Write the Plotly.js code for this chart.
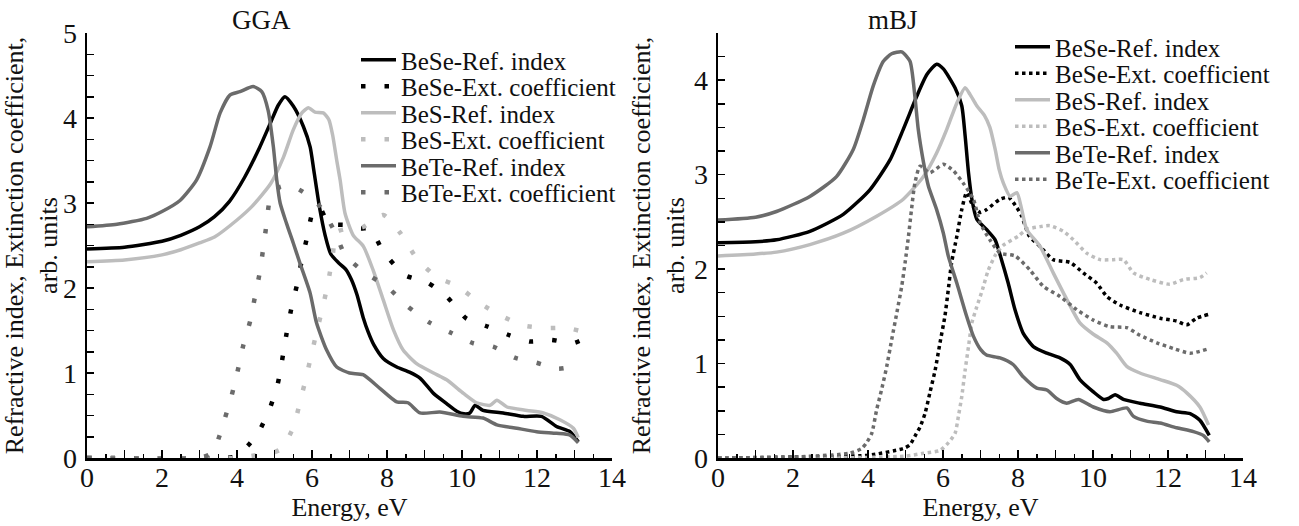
<!DOCTYPE html>
<html><head><meta charset="utf-8">
<script src="https://cdn.plot.ly/plotly-3.0.1.min.js"></script>
<style>html,body{margin:0;padding:0;background:#fff}#chart{width:1299px;height:526px}</style>
</head><body><div id="chart"></div>
<script>
// ---------- GGA panel ----------
const ggaBeSeN_E = [0,1,2,2.5,3,3.4,3.8,4.2,4.6,4.9,5.1,5.28,5.5,5.77,5.95,6.05,6.2,6.35,6.5,6.7,6.9,7.05,7.2,7.36,7.5,7.65,7.9,8.26,8.6,8.88,9.24,9.59,9.86,10.05,10.21,10.35,10.56,11.1,11.63,12.12,12.52,12.88,13.1];
const ggaBeSeN   = [2.46,2.48,2.55,2.62,2.72,2.84,3.02,3.3,3.65,3.95,4.15,4.25,4.14,3.9,3.66,3.38,2.95,2.62,2.4,2.3,2.22,2.1,1.92,1.66,1.48,1.33,1.17,1.07,1.01,0.94,0.76,0.64,0.55,0.52,0.53,0.62,0.56,0.53,0.49,0.49,0.37,0.31,0.19];
const ggaBeSN_E = [0,1,2,2.5,3,3.4,4,4.4,4.9,5.24,5.5,5.73,5.9,6.08,6.3,6.45,6.55,6.66,6.75,6.88,7.1,7.37,7.63,7.9,8.17,8.43,8.79,9.24,9.59,10.04,10.39,10.75,10.93,11.2,11.73,12.17,12.61,12.97,13.1];
const ggaBeSN   = [2.31,2.33,2.39,2.45,2.53,2.6,2.8,2.96,3.23,3.54,3.86,4.06,4.12,4.07,4.06,3.98,3.8,3.5,3.27,2.88,2.62,2.49,2.21,1.86,1.51,1.27,1.11,1.0,0.92,0.76,0.65,0.62,0.68,0.6,0.56,0.53,0.45,0.35,0.24];
const ggaBeTeN_E = [0,0.8,1.59,2.0,2.48,2.92,3.28,3.55,3.81,4.08,4.43,4.66,4.83,4.97,5.06,5.15,5.32,5.5,5.68,5.95,6.12,6.39,6.66,7.0,7.36,7.81,8.26,8.56,8.88,9.41,10.03,10.56,10.93,11.46,11.99,12.52,12.88,13.1];
const ggaBeTeN   = [2.72,2.75,2.82,2.9,3.03,3.27,3.66,4.06,4.27,4.31,4.37,4.31,4.09,3.66,3.27,3.0,2.76,2.53,2.29,1.94,1.59,1.27,1.07,1.0,0.98,0.82,0.66,0.65,0.53,0.54,0.49,0.47,0.39,0.35,0.31,0.29,0.27,0.18];
const ggaBeSeK_E = [0,3.5,3.9,4.06,4.3,4.57,4.88,5.09,5.21,5.32,5.44,5.59,5.72,5.87,6.02,6.2,6.44,6.97,7.3,7.55,7.9,8.48,9.06,9.59,10.12,10.66,11.23,11.81,12.37,12.95,13.15];
const ggaBeSeK   = [0,0,0.01,0.05,0.15,0.3,0.59,0.88,1.17,1.46,1.74,2.02,2.31,2.6,2.89,2.95,2.76,2.74,2.7,2.7,2.43,2.15,2.07,1.9,1.64,1.55,1.45,1.37,1.39,1.35,1.38];
const ggaBeSK_E = [0,4.0,4.61,5.0,5.19,5.51,5.68,5.84,5.99,6.14,6.3,6.44,6.55,6.66,7.0,7.37,7.9,8.35,8.79,9.32,9.89,10.48,11.06,11.63,12.21,12.79,13.1];
const ggaBeSK   = [0,0,0.04,0.07,0.11,0.37,0.66,0.94,1.23,1.51,1.8,2.09,2.38,2.66,2.7,2.72,2.86,2.65,2.35,2.13,2.02,1.82,1.67,1.56,1.53,1.53,1.5];
const ggaBeTeK_E = [0,3.0,3.3,3.46,3.68,3.86,4.02,4.17,4.35,4.48,4.61,4.7,4.79,4.88,5.15,5.45,5.76,6.21,6.61,6.88,7.41,7.99,8.56,9.15,9.72,10.3,10.83,11.41,11.99,12.56,13.1];
const ggaBeTeK   = [0,0,0.05,0.17,0.47,0.74,1.03,1.33,1.61,1.9,2.19,2.47,2.76,3.04,3.19,3.2,3.13,2.96,2.66,2.39,2.18,2.02,1.78,1.59,1.47,1.35,1.31,1.18,1.12,1.05,1.09];

// ---------- mBJ panel ----------
const mbjBeSeN_E = [0,1,1.56,2.45,3.34,4.05,4.59,4.94,5.3,5.57,5.83,6.01,6.32,6.5,6.59,6.68,6.77,6.9,7.16,7.39,7.56,7.74,7.92,8.14,8.41,8.77,9.12,9.39,9.65,10.01,10.28,10.41,10.59,10.81,11.25,11.79,12.23,12.59,12.85,13.1];
const mbjBeSeN   = [2.28,2.29,2.31,2.4,2.58,2.84,3.16,3.48,3.83,4.06,4.17,4.12,3.92,3.73,3.41,3.02,2.74,2.53,2.42,2.31,2.1,1.85,1.57,1.32,1.18,1.11,1.06,0.99,0.83,0.7,0.62,0.63,0.67,0.62,0.58,0.54,0.49,0.47,0.4,0.24];
const mbjBeSN_E = [0,1,1.56,2.45,3.34,4.23,4.94,5.48,5.83,6.1,6.37,6.59,6.72,6.9,7.1,7.25,7.39,7.5,7.61,7.79,7.97,8.1,8.23,8.59,8.94,9.3,9.65,10.01,10.37,10.63,10.9,11.25,11.79,12.23,12.5,12.85,13.08];
const mbjBeSN   = [2.14,2.16,2.18,2.26,2.38,2.56,2.74,2.98,3.23,3.48,3.76,3.92,3.85,3.73,3.63,3.5,3.27,3.05,2.91,2.77,2.81,2.63,2.42,2.24,1.96,1.68,1.43,1.31,1.22,1.11,0.97,0.9,0.83,0.77,0.69,0.54,0.35];
const mbjBeTeN_E = [0,1,1.56,2.45,3.16,3.61,3.88,4.14,4.41,4.63,4.9,5.12,5.25,5.34,5.48,5.61,5.83,6.01,6.14,6.37,6.63,6.81,7.0,7.16,7.52,7.87,8.14,8.5,8.77,9.03,9.3,9.61,10.01,10.45,10.9,11.08,11.43,11.79,12.23,12.68,12.94,13.1];
const mbjBeTeN   = [2.52,2.55,2.61,2.77,2.98,3.27,3.59,3.94,4.2,4.28,4.3,4.2,3.83,3.48,3.13,2.88,2.63,2.38,2.14,1.85,1.5,1.29,1.15,1.09,1.06,0.99,0.86,0.74,0.72,0.63,0.58,0.62,0.54,0.49,0.53,0.44,0.39,0.37,0.32,0.28,0.24,0.17];
const mbjBeSeK_E = [0,2,4,4.94,5.12,5.25,5.39,5.52,5.65,5.79,5.92,6.05,6.14,6.23,6.37,6.5,6.63,6.81,7.0,7.16,7.52,7.75,7.97,8.1,8.3,8.59,8.94,9.39,9.74,10.1,10.37,10.72,11.25,11.79,12.23,12.5,12.76,13.08];
const mbjBeSeK   = [0,0.01,0.03,0.1,0.14,0.23,0.33,0.47,0.69,0.93,1.22,1.5,1.78,2.07,2.35,2.63,2.81,2.66,2.6,2.63,2.74,2.76,2.65,2.56,2.35,2.24,2.1,2.07,1.96,1.85,1.71,1.62,1.54,1.48,1.45,1.41,1.48,1.52];
const mbjBeSK_E = [0,3,5.0,5.48,5.92,6.14,6.32,6.41,6.5,6.59,6.68,6.77,6.9,7.05,7.2,7.4,7.6,8.01,8.23,8.59,8.85,9.21,9.48,9.83,10.19,10.54,10.81,11.08,11.52,12.05,12.41,12.85,13.03];
const mbjBeSK   = [0,0,0.02,0.05,0.08,0.16,0.26,0.44,0.65,0.93,1.18,1.43,1.6,1.78,1.98,2.15,2.25,2.35,2.42,2.45,2.46,2.4,2.31,2.17,2.1,2.1,2.1,1.96,1.89,1.84,1.89,1.91,1.96];
const mbjBeTeK_E = [0,2,3.5,3.83,3.96,4.1,4.23,4.36,4.5,4.63,4.77,4.9,4.99,5.08,5.16,5.25,5.39,5.65,6.01,6.28,6.54,6.81,6.99,7.25,7.52,7.92,8.32,8.67,9.12,9.57,10.01,10.45,10.9,11.25,11.7,12.14,12.59,13.03];
const mbjBeTeK   = [0,0.01,0.05,0.1,0.16,0.26,0.51,0.72,0.97,1.25,1.54,1.82,2.07,2.35,2.63,2.91,3.09,3.02,3.11,3.04,2.91,2.74,2.49,2.31,2.17,2.14,1.99,1.82,1.71,1.57,1.46,1.39,1.38,1.3,1.22,1.16,1.11,1.15];

const seriesNames = ['BeSe-Ref. index','BeSe-Ext. coefficient','BeS-Ref. index','BeS-Ext. coefficient','BeTe-Ref. index','BeTe-Ext. coefficient'];
const panelTitles = ['GGA','mBJ'];
const xTickVals = [0,1,2,3,4,5,6,7,8,9,10,11,12,13,14];
const xTickText = ['0','','2','','4','','6','','8','','10','','12','','14'];
const yTitle = 'Refractive index, Extinction coefficient,<br>arb. units';
const xTitle = 'Energy, eV';

const FONT = 'Liberation Serif, Times New Roman, serif';
const W = 1299, H = 526;
const C = {BeSe:'#000000', BeS:'#bdbdbd', BeTe:'#6b6b6b'};
const colorList = [C.BeSe, C.BeSe, C.BeS, C.BeS, C.BeTe, C.BeTe];

const ggaData = [[ggaBeSeN_E,ggaBeSeN],[ggaBeSeK_E,ggaBeSeK],[ggaBeSN_E,ggaBeSN],[ggaBeSK_E,ggaBeSK],[ggaBeTeN_E,ggaBeTeN],[ggaBeTeK_E,ggaBeTeK]];
const mbjData = [[mbjBeSeN_E,mbjBeSeN],[mbjBeSeK_E,mbjBeSeK],[mbjBeSN_E,mbjBeSN],[mbjBeSK_E,mbjBeSK],[mbjBeTeN_E,mbjBeTeN],[mbjBeTeK_E,mbjBeTeK]];

const traces = [];
function addPanel(data, xa, ya, legOffset, dotted) {
  data.forEach((d, i) => {
    const isK = i % 2 === 1;
    const line = isK
      ? (dotted ? {color: colorList[i], width: 3.5, dash: '3.5px,3.5px', shape: 'spline', smoothing: 0.6}
                : {color: colorList[i], width: 4.5, dash: '4.5px,19px', shape: 'spline', smoothing: 0.6})
      : {color: colorList[i], width: 3.5, shape: 'spline', smoothing: 0.6};
    const li = legOffset + i + 1;
    traces.push({
      type: 'scatter', mode: 'lines', x: d[0], y: d[1], name: seriesNames[i],
      xaxis: xa, yaxis: ya, line: line, showlegend: true,
      legend: li === 1 ? 'legend' : 'legend' + li
    });
  });
}
addPanel(ggaData, 'x', 'y', 0, false);
addPanel(mbjData, 'x2', 'y2', 6, true);

const tickFont = {family: FONT, size: 28, color: '#111'};
const titleFont = {family: FONT, size: 26, color: '#111'};
function xAxis(domain) {
  return {
    domain: domain, range: [0, 14], showgrid: false, zeroline: false,
    showline: true, linewidth: 2.5, linecolor: '#000',
    tickmode: 'array', tickvals: xTickVals, ticktext: xTickText,
    ticks: 'inside', ticklen: 8, tickwidth: 1.5, tickcolor: '#000',
    minor: {tickmode: 'linear', tick0: 0, dtick: 0.5, ticks: 'inside', ticklen: 4, tickwidth: 1.5, tickcolor: '#000'},
    tickfont: tickFont, ticklabelstandoff: -7,
    title: {text: xTitle, font: titleFont, standoff: 2}, automargin: false, fixedrange: true
  };
}
function yAxis(range, anchor) {
  return {
    domain: [68/H, 493/H], range: range, anchor: anchor, showgrid: false, zeroline: false,
    showline: true, linewidth: 2.5, linecolor: '#000',
    tickmode: 'linear', tick0: 0, dtick: 1,
    ticks: 'inside', ticklen: 7, tickwidth: 1.5, tickcolor: '#000',
    minor: {tickmode: 'linear', tick0: 0, dtick: 0.25, ticks: 'inside', ticklen: 7, tickwidth: 1.5, tickcolor: '#000'},
    tickfont: tickFont, ticklabelstandoff: 2,
    title: {text: yTitle, font: titleFont, standoff: 2}, automargin: false, fixedrange: true
  };
}

const layout = {
  width: W, height: H, margin: {l: 0, r: 0, t: 0, b: 0},
  paper_bgcolor: '#fff', plot_bgcolor: '#fff',
  font: {family: FONT, color: '#111'},
  xaxis: Object.assign(xAxis([87/W, 612/W]), {anchor: 'y'}),
  yaxis: yAxis([0, 5], 'x'),
  xaxis2: Object.assign(xAxis([718/W, 1243/W]), {anchor: 'y2'}),
  yaxis2: yAxis([0, 4.5], 'x2'),
  annotations: [
    {text: panelTitles[0], xref: 'paper', yref: 'paper', x: 261/W, y: 1 - 20/H, showarrow: false, font: {family: FONT, size: 27, color: '#111'}, xanchor: 'center', yanchor: 'middle'},
    {text: panelTitles[1], xref: 'paper', yref: 'paper', x: 893/W, y: 1 - 20/H, showarrow: false, font: {family: FONT, size: 27, color: '#111'}, xanchor: 'center', yanchor: 'middle'}
  ]
};
const leftRows = [60, 86.5, 113, 139.5, 166, 192.5];
const rightRows = [47, 73.5, 100, 126.5, 153, 179.5];
for (let k = 0; k < 12; k++) {
  const key = k === 0 ? 'legend' : 'legend' + (k + 1);
  const left = k < 6;
  const rowY = left ? leftRows[k] : rightRows[k - 6];
  layout[key] = {
    x: (left ? 356 : 1010) / W, xanchor: 'left',
    y: 1 - rowY / H, yanchor: 'middle',
    bgcolor: 'rgba(0,0,0,0)', borderwidth: 0,
    font: {family: FONT, size: 25, color: '#111'},
    itemwidth: 35, tracegroupgap: 0
  };
}
Plotly.newPlot('chart', traces, layout, {displayModeBar: false, staticPlot: true});
</script>
</body></html>
